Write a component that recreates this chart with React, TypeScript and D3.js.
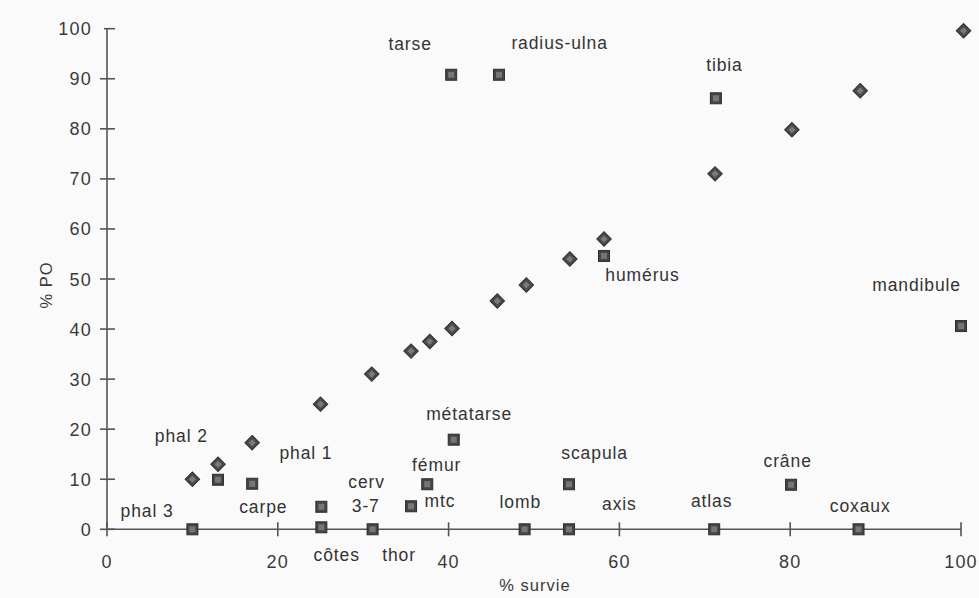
import React, { useEffect } from "react";
import * as d3 from "d3";

// Diamonds: % survie vs % PO (cumulative curve)
const diamondX = [10, 13, 17, 25, 31, 35.6, 37.8, 40.4, 45.7, 49.1, 54.2, 58.2, 71.2, 80.2, 88.2, 100.3];
const diamondY = [10, 13, 17.3, 25, 31, 35.6, 37.5, 40.1, 45.6, 48.8, 54, 58, 71, 79.8, 87.6, 99.6];

// Squares: skeletal elements
const squareNames = [
  "phal 3", "phal 2", "carpe", "cerv 3-7", "côtes", "thor", "mtc", "fémur", "métatarse",
  "tarse", "radius-ulna", "lomb", "axis", "scapula", "humérus", "tibia", "atlas", "crâne",
  "coxaux", "mandibule",
];
const squareX = [10, 13, 17, 25.1, 25.1, 31.1, 35.6, 37.5, 40.6, 40.3, 45.9, 48.9, 54.1, 54.1, 58.2, 71.3, 71.1, 80.1, 88, 100];
const squareY = [0, 9.9, 9.1, 4.5, 0.4, 0, 4.6, 9.0, 17.9, 90.8, 90.8, 0, 0, 9, 54.6, 86.1, 0, 8.9, 0, 40.6];

// Annotation labels, placed in data units (label centre x, baseline y)
const labelText = [
  "tarse", "radius-ulna", "tibia", "humérus", "mandibule", "phal 2", "phal 1", "phal 3",
  "carpe", "cerv", "3-7", "fémur", "mtc", "métatarse", "côtes", "thor", "lomb", "scapula",
  "axis", "atlas", "crâne", "coxaux",
];
const labelX = [35.5, 53.0, 72.3, 62.7, 94.8, 8.7, 23.3, 4.7, 18.3, 30.4, 30.3, 38.6, 39.0, 42.4, 26.9, 34.2, 48.4, 57.1, 60.0, 70.8, 79.7, 88.2];
const labelY = [95.8, 96, 91.6, 49.6, 47.6, 17.4, 14, 2.4, 3.2, 8.2, 3.4, 11.6, 4.4, 21.8, -6.4, -6.4, 4.2, 14, 3.8, 4.4, 12.4, 3.4];

const xTicks = [0, 20, 40, 60, 80, 100];
const yTicks = [0, 10, 20, 30, 40, 50, 60, 70, 80, 90, 100];

const W = 979;
const H = 598;
const FONT = "'Liberation Sans', Arial, Helvetica, sans-serif";

export default function App() {
  useEffect(() => {
    document.body.style.margin = "0";
    document.body.style.background = "#fafafa";
  }, []);

  const x = d3.scaleLinear().domain([0, 100]).range([107, 961]);
  const y = d3.scaleLinear().domain([0, 100]).range([529.3, 28.7]);

  const diamondPath = d3.symbol().type(d3.symbolSquare).size(105)();
  const sq = 11;

  return (
    <svg width={W} height={H} style={{ display: "block", background: "#fafafa" }}>
      {/* axes */}
      <g stroke="#555" strokeWidth={1.6} fill="none">
        <line x1={x(0)} x2={x(100)} y1={y(0)} y2={y(0)} />
        <line x1={x(0)} x2={x(0)} y1={y(0)} y2={y(100)} />
        {xTicks.map((t) => (
          <line key={"xt" + t} x1={x(t)} x2={x(t)} y1={y(0) - 7} y2={y(0) + 7} />
        ))}
        {yTicks.map((t) => (
          <line key={"yt" + t} x1={x(0) - (t === 100 ? 3 : 7)} x2={x(0) + 8} y1={y(t)} y2={y(t)} />
        ))}
      </g>
      <g fill="#3a3a3a" fontFamily={FONT} fontSize={18} letterSpacing={1.2}>
        {xTicks.map((t) => (
          <text key={"xl" + t} x={x(t)} y={568} textAnchor="middle">
            {t}
          </text>
        ))}
        {yTicks.map((t) => (
          <text key={"yl" + t} x={92} y={y(t) + 6.5} textAnchor="end">
            {t}
          </text>
        ))}
        <text x={535} y={591} textAnchor="middle" fontSize={16.5} letterSpacing={1}>
          % survie
        </text>
        <text transform={`translate(52,285) rotate(-90)`} textAnchor="middle" fontSize={16.5} letterSpacing={1}>
          % PO
        </text>
      </g>

      {/* labels */}
      <g fill="#333" fontFamily={FONT} fontSize={17.5} letterSpacing={0.9} textAnchor="middle">
        {labelText.map((t, i) => (
          <text key={"lb" + i} x={x(labelX[i])} y={y(labelY[i])}>
            {t}
          </text>
        ))}
      </g>

      {/* diamonds */}
      <g>
        {diamondX.map((d, i) => (
          <g key={"d" + i} transform={`translate(${x(d)},${y(diamondY[i])}) rotate(45)`}>
            <path d={diamondPath || ""} fill="#4a4a4a" stroke="#2e2e2e" strokeWidth={1} />
            <rect x={-2.5} y={-2.5} width={5} height={5} fill="#7a7a7a" />
          </g>
        ))}
      </g>

      {/* squares */}
      <g>
        {squareX.map((d, i) => (
          <g key={"s" + i} transform={`translate(${x(d)},${y(squareY[i])})`}>
            <rect x={-sq / 2} y={-sq / 2} width={sq} height={sq} fill="#454545" stroke="#2e2e2e" strokeWidth={1} />
            <rect x={-3} y={-3} width={6} height={6} fill="#767676" />
          </g>
        ))}
      </g>
    </svg>
  );
}
